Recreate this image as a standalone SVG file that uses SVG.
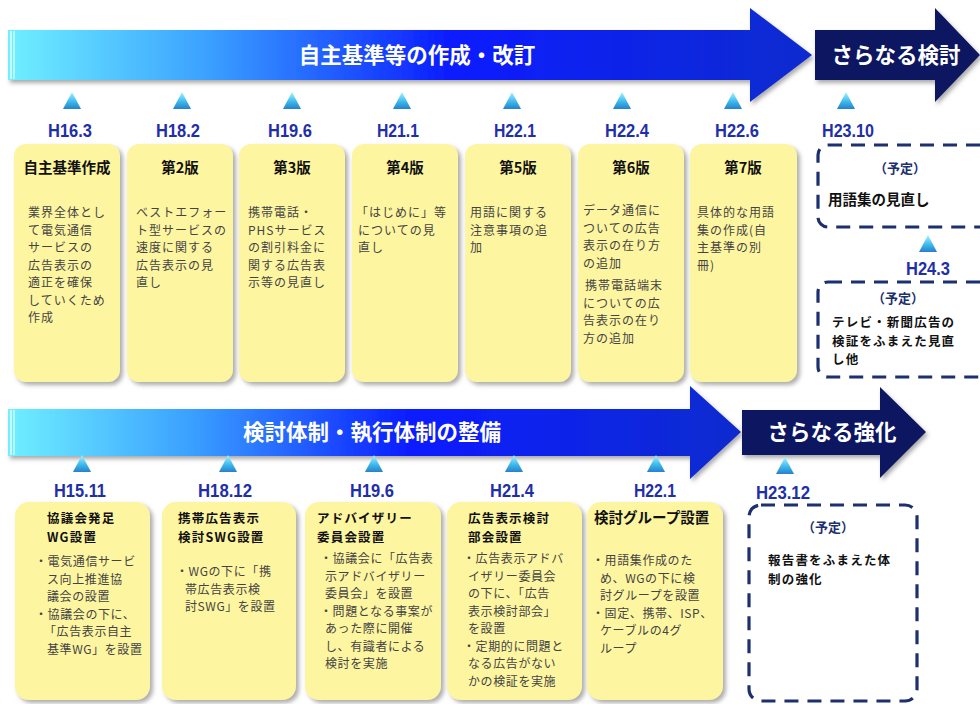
<svg xmlns="http://www.w3.org/2000/svg" width="980" height="704" viewBox="0 0 980 704">
<defs>
<linearGradient id="arrowGrad" x1="0" y1="0" x2="1" y2="0">
<stop offset="0" stop-color="#6ff0ff"/>
<stop offset="0.25" stop-color="#3aa0ff"/>
<stop offset="0.55" stop-color="#0a1cff"/>
<stop offset="1" stop-color="#0b2ccf"/>
</linearGradient>
<linearGradient id="triGrad" x1="0" y1="0" x2="0" y2="1">
<stop offset="0" stop-color="#a8f4ff"/>
<stop offset="0.6" stop-color="#39b6ec"/>
<stop offset="1" stop-color="#2a7fc8"/>
</linearGradient>
<filter id="shadow" x="-10%" y="-10%" width="125%" height="125%">
<feDropShadow dx="3" dy="3" stdDeviation="2" flood-color="#777" flood-opacity="0.6"/>
</filter>
<filter id="ashadow" x="-5%" y="-10%" width="115%" height="130%">
<feDropShadow dx="2" dy="3" stdDeviation="2" flood-color="#555" flood-opacity="0.5"/>
</filter>
<path id="tri" d="M0,-9 L9,8 L-9,8 Z"/>
</defs>
<style>
.box{fill:#fdf5a0;filter:url(#shadow);}
.dash{fill:#ffffff;stroke:#1c2f6e;stroke-width:3.2;stroke-dasharray:14 9;}
.ttl{font-family:"Noto Sans CJK JP","Noto Sans",sans-serif;font-weight:bold;font-size:12.5px;fill:#111;letter-spacing:1.2px;}
.ttl1{font-family:"Noto Sans CJK JP","Noto Sans",sans-serif;font-weight:bold;font-size:14.5px;fill:#111;}
.body{font-family:"Noto Sans CJK JP","Noto Sans",sans-serif;font-size:12px;fill:#444;letter-spacing:1px;}
.bbody{font-family:"Noto Sans CJK JP","Noto Sans",sans-serif;font-size:12px;fill:#444;letter-spacing:0.6px;}
.date{font-family:"Liberation Sans",Arial,sans-serif;font-weight:bold;font-size:18px;fill:#1f2fa8;text-anchor:middle;}
.arrowtxt{font-family:"Noto Sans CJK JP","Noto Sans",sans-serif;font-weight:bold;font-size:21.5px;fill:#ffffff;text-anchor:middle;}
.yotei{font-family:"Noto Sans CJK JP","Noto Sans",sans-serif;font-weight:bold;font-size:13px;fill:#1c2f6e;text-anchor:middle;}
.tri{fill:url(#triGrad);}
</style>

<!-- Arrows -->
<g id="arrow-top">
<path d="M8,30 L750,30 L750,8 L812,55 L750,102 L750,80 L8,80 Z" fill="url(#arrowGrad)" filter="url(#ashadow)"/>
<line x1="11" y1="31" x2="11" y2="79" stroke="#ffffff" stroke-width="1.2"/>
<line x1="14" y1="31" x2="14" y2="79" stroke="#ffffff" stroke-width="1"/>
<text class="arrowtxt" x="417" y="63">自主基準等の作成・改訂</text>
</g>
<g id="arrow-top-next">
<path d="M815,30 L935,30 L935,8 L980,55 L935,102 L935,80 L815,80 Z" fill="#0b1760" filter="url(#ashadow)"/>
<text class="arrowtxt" x="896" y="63">さらなる検討</text>
</g>
<g id="arrow-bottom">
<path d="M8,409 L690,409 L690,386 L741,432 L690,479 L690,456 L8,456 Z" fill="url(#arrowGrad)" filter="url(#ashadow)"/>
<line x1="11" y1="410" x2="11" y2="455" stroke="#ffffff" stroke-width="1.2"/>
<line x1="14" y1="410" x2="14" y2="455" stroke="#ffffff" stroke-width="1"/>
<text class="arrowtxt" x="372" y="440">検討体制・執行体制の整備</text>
</g>
<g id="arrow-bottom-next">
<path d="M742,410 L880,410 L880,387 L926,432 L880,478 L880,455 L742,455 Z" fill="#0b1760" filter="url(#ashadow)"/>
<text class="arrowtxt" x="832" y="440">さらなる強化</text>
</g>

<!-- Top milestones -->
<g id="milestones-top">
<use href="#tri" class="tri" x="72" y="101"/><text class="date" x="70" y="137" textLength="44" lengthAdjust="spacingAndGlyphs">H16.3</text>
<use href="#tri" class="tri" x="182" y="101"/><text class="date" x="178" y="137" textLength="44" lengthAdjust="spacingAndGlyphs">H18.2</text>
<use href="#tri" class="tri" x="292" y="101"/><text class="date" x="290" y="137" textLength="44" lengthAdjust="spacingAndGlyphs">H19.6</text>
<use href="#tri" class="tri" x="402" y="101"/><text class="date" x="398" y="137" textLength="42" lengthAdjust="spacingAndGlyphs">H21.1</text>
<use href="#tri" class="tri" x="512" y="101"/><text class="date" x="515" y="137" textLength="42" lengthAdjust="spacingAndGlyphs">H22.1</text>
<use href="#tri" class="tri" x="622" y="101"/><text class="date" x="627" y="137" textLength="44" lengthAdjust="spacingAndGlyphs">H22.4</text>
<use href="#tri" class="tri" x="733" y="101"/><text class="date" x="737" y="137" textLength="44" lengthAdjust="spacingAndGlyphs">H22.6</text>
<use href="#tri" class="tri" x="846" y="101"/><text class="date" x="848" y="137" textLength="52" lengthAdjust="spacingAndGlyphs">H23.10</text>
<use href="#tri" class="tri" x="928" y="244"/><text class="date" x="928" y="275" textLength="44" lengthAdjust="spacingAndGlyphs">H24.3</text>
</g>

<!-- Top boxes -->
<g id="box-t1">
<rect class="box" x="14" y="144" width="106" height="238" rx="12"/>
<text class="ttl1" x="67" y="173" text-anchor="middle">自主基準作成</text>
<text class="body"><tspan x="28" y="217">業界全体とし</tspan><tspan x="28" y="234.5">て電気通信</tspan><tspan x="28" y="252">サービスの</tspan><tspan x="28" y="269.5">広告表示の</tspan><tspan x="28" y="287">適正を確保</tspan><tspan x="28" y="304.5">していくため</tspan><tspan x="28" y="322">作成</tspan></text>
</g>
<g id="box-t2">
<rect class="box" x="127" y="144" width="106" height="238" rx="12"/>
<text class="ttl1" x="180" y="173" text-anchor="middle">第2版</text>
<text class="body"><tspan x="136" y="217">ベストエフォー</tspan><tspan x="136" y="234.5">ト型サービスの</tspan><tspan x="136" y="252">速度に関する</tspan><tspan x="136" y="269.5">広告表示の見</tspan><tspan x="136" y="287">直し</tspan></text>
</g>
<g id="box-t3">
<rect class="box" x="239" y="144" width="106" height="238" rx="12"/>
<text class="ttl1" x="292" y="173" text-anchor="middle">第3版</text>
<text class="body"><tspan x="248" y="217">携帯電話・</tspan><tspan x="248" y="234.5">PHSサービス</tspan><tspan x="248" y="252">の割引料金に</tspan><tspan x="248" y="269.5">関する広告表</tspan><tspan x="248" y="287">示等の見直し</tspan></text>
</g>
<g id="box-t4">
<rect class="box" x="352" y="144" width="106" height="238" rx="12"/>
<text class="ttl1" x="405" y="173" text-anchor="middle">第4版</text>
<text class="body"><tspan x="356" y="217">「はじめに」等</tspan><tspan x="358" y="234.5">についての見</tspan><tspan x="358" y="252">直し</tspan></text>
</g>
<g id="box-t5">
<rect class="box" x="465" y="144" width="106" height="238" rx="12"/>
<text class="ttl1" x="518" y="173" text-anchor="middle">第5版</text>
<text class="body"><tspan x="470" y="217">用語に関する</tspan><tspan x="470" y="234.5">注意事項の追</tspan><tspan x="470" y="252">加</tspan></text>
</g>
<g id="box-t6">
<rect class="box" x="578" y="144" width="106" height="238" rx="12"/>
<text class="ttl1" x="631" y="173" text-anchor="middle">第6版</text>
<text class="body"><tspan x="583" y="215">データ通信に</tspan><tspan x="583" y="232.5">ついての広告</tspan><tspan x="583" y="250">表示の在り方</tspan><tspan x="583" y="267.5">の追加</tspan><tspan x="585" y="290">携帯電話端末</tspan><tspan x="583" y="307.5">についての広</tspan><tspan x="583" y="325">告表示の在り</tspan><tspan x="583" y="342.5">方の追加</tspan></text>
</g>
<g id="box-t7">
<rect class="box" x="690" y="144" width="107" height="238" rx="12"/>
<text class="ttl1" x="743" y="173" text-anchor="middle">第7版</text>
<text class="body"><tspan x="697" y="217">具体的な用語</tspan><tspan x="697" y="234.5">集の作成(自</tspan><tspan x="697" y="252">主基準の別</tspan><tspan x="697" y="269.5">冊)</tspan></text>
</g>
<g id="box-t8">
<rect class="dash" x="818" y="145" width="180" height="82" rx="10"/>
<text class="yotei" x="900" y="173">（予定）</text>
<text class="ttl1" x="828" y="205">用語集の見直し</text>
</g>
<g id="box-t9">
<rect class="dash" x="818" y="282" width="180" height="95" rx="10"/>
<text class="yotei" x="898" y="303">（予定）</text>
<text class="ttl"><tspan x="832" y="327">テレビ・新聞広告の</tspan><tspan x="832" y="345.5">検証をふまえた見直</tspan><tspan x="832" y="364">し他</tspan></text>
</g>

<!-- Bottom milestones -->
<g id="milestones-bottom">
<use href="#tri" class="tri" x="82" y="464"/><text class="date" x="80" y="497" textLength="52" lengthAdjust="spacingAndGlyphs">H15.11</text>
<use href="#tri" class="tri" x="228" y="464"/><text class="date" x="225" y="497" textLength="54" lengthAdjust="spacingAndGlyphs">H18.12</text>
<use href="#tri" class="tri" x="374" y="464"/><text class="date" x="372" y="497" textLength="44" lengthAdjust="spacingAndGlyphs">H19.6</text>
<use href="#tri" class="tri" x="514" y="464"/><text class="date" x="512" y="497" textLength="44" lengthAdjust="spacingAndGlyphs">H21.4</text>
<use href="#tri" class="tri" x="656" y="464"/><text class="date" x="655" y="497" textLength="42" lengthAdjust="spacingAndGlyphs">H22.1</text>
<use href="#tri" class="tri" x="785" y="466"/><text class="date" x="783" y="499" textLength="54" lengthAdjust="spacingAndGlyphs">H23.12</text>
</g>

<!-- Bottom boxes -->
<g id="box-b1">
<rect class="box" x="15" y="502" width="135" height="198" rx="14"/>
<text class="ttl"><tspan x="47" y="523">協議会発足</tspan><tspan x="47" y="541.5">WG設置</tspan></text>
<text class="bbody"><tspan x="35" y="566">・電気通信サービ</tspan><tspan x="47" y="583.5">ス向上推進協</tspan><tspan x="47" y="601">議会の設置</tspan><tspan x="35" y="618.5">・協議会の下に、</tspan><tspan x="44" y="636">「広告表示自主</tspan><tspan x="47" y="653.5">基準WG」を設置</tspan></text>
</g>
<g id="box-b2">
<rect class="box" x="162" y="502" width="134" height="198" rx="14"/>
<text class="ttl"><tspan x="178" y="523">携帯広告表示</tspan><tspan x="178" y="541.5">検討SWG設置</tspan></text>
<text class="bbody"><tspan x="176" y="576">・WGの下に「携</tspan><tspan x="185" y="593.5">帯広告表示検</tspan><tspan x="185" y="611">討SWG」を設置</tspan></text>
</g>
<g id="box-b3">
<rect class="box" x="305" y="502" width="136" height="198" rx="14"/>
<text class="ttl"><tspan x="317" y="523">アドバイザリー</tspan><tspan x="317" y="541.5">委員会設置</tspan></text>
<text class="bbody"><tspan x="320" y="563">・協議会に「広告表</tspan><tspan x="325" y="580.5">示アドバイザリー</tspan><tspan x="325" y="598">委員会」を設置</tspan><tspan x="320" y="615.5">・問題となる事案が</tspan><tspan x="325" y="633">あった際に開催</tspan><tspan x="325" y="650.5">し、有識者による</tspan><tspan x="325" y="668">検討を実施</tspan></text>
</g>
<g id="box-b4">
<rect class="box" x="447" y="502" width="135" height="198" rx="14"/>
<text class="ttl"><tspan x="468" y="523">広告表示検討</tspan><tspan x="468" y="541.5">部会設置</tspan></text>
<text class="bbody"><tspan x="463" y="563">・広告表示アドバ</tspan><tspan x="468" y="580.5">イザリー委員会</tspan><tspan x="468" y="598">の下に、「広告</tspan><tspan x="468" y="615.5">表示検討部会」</tspan><tspan x="468" y="633">を設置</tspan><tspan x="463" y="650.5">・定期的に問題と</tspan><tspan x="468" y="668">なる広告がない</tspan><tspan x="468" y="685.5">かの検証を実施</tspan></text>
</g>
<g id="box-b5">
<rect class="box" x="587" y="502" width="136" height="198" rx="14"/>
<text class="ttl1" x="594" y="523" font-size="14">検討グループ設置</text>
<text class="bbody"><tspan x="592" y="565">・用語集作成のた</tspan><tspan x="600" y="582.5">め、WGの下に検</tspan><tspan x="600" y="600">討グループを設置</tspan><tspan x="592" y="617.5">・固定、携帯、ISP、</tspan><tspan x="600" y="635">ケーブルの4グ</tspan><tspan x="600" y="652.5">ループ</tspan></text>
</g>
<g id="box-b6">
<rect class="dash" x="749" y="505" width="168" height="196" rx="12"/>
<text class="yotei" x="828" y="532">（予定）</text>
<text class="ttl"><tspan x="768" y="565">報告書をふまえた体</tspan><tspan x="768" y="583.5">制の強化</tspan></text>
</g>
</svg>
